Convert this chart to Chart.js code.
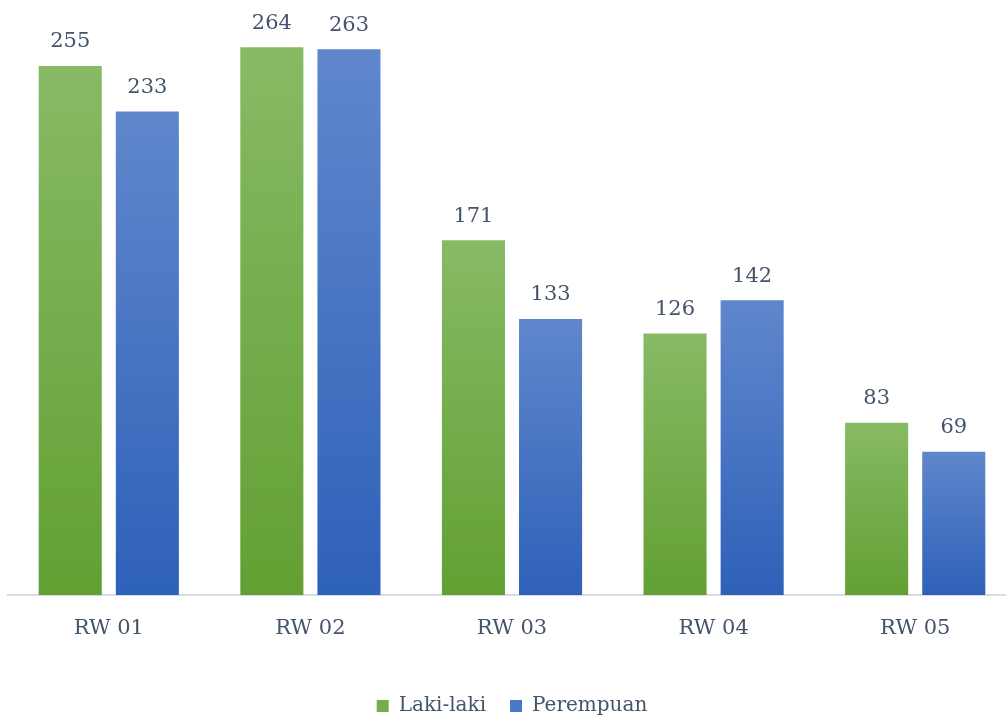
<!DOCTYPE html>
<html>
<head>
<meta charset="utf-8">
<script src="https://cdn.jsdelivr.net/npm/chart.js@4/dist/chart.umd.min.js"></script>
<style>
  html, body { margin: 0; padding: 0; background: #fff; overflow: hidden; }
  #wrap { width: 1006px; height: 716px; overflow: hidden; }
</style>
</head>
<body>
<div id="wrap"><canvas id="chart" width="1016" height="726"></canvas></div>
<script>
var categories = ['RW 01', 'RW 02', 'RW 03', 'RW 04', 'RW 05'];
var lakiLaki = [255, 264, 171, 126, 83];
var perempuan = [233, 263, 133, 142, 69];

var textColor = '#44546a';
var fontFamily = '"DejaVu Serif", serif';

// per-bar vertical gradient, lighter on top
var barGradient = function (top, bottom) {
    return function (context) {
        var chart = context.chart;
        if (!chart.chartArea || !chart.scales.y || context.raw === undefined) return bottom;
        var y = chart.scales.y;
        var y0 = y.getPixelForValue(context.raw);
        var y1 = y.getPixelForValue(0);
        var g = chart.ctx.createLinearGradient(0, y0, 0, y1);
        g.addColorStop(0, top);
        g.addColorStop(1, bottom);
        return g;
    };
};

var valueLabels = {
    id: 'valueLabels',
    afterDatasetsDraw: function (chart) {
        var ctx = chart.ctx;
        ctx.save();
        ctx.font = '21px ' + fontFamily;
        ctx.fillStyle = textColor;
        ctx.textAlign = 'center';
        ctx.textBaseline = 'middle';
        chart.data.datasets.forEach(function (ds, i) {
            chart.getDatasetMeta(i).data.forEach(function (bar, j) {
                ctx.fillText(ds.data[j], bar.x, bar.y - 24);
            });
        });
        ctx.restore();
    }
};

new Chart(document.getElementById('chart').getContext('2d'), {
    type: 'bar',
    data: {
        labels: categories,
        datasets: [{
            label: 'Laki-laki',
            data: lakiLaki,
            backgroundColor: barGradient('#87ba65', '#62a033')
        }, {
            label: 'Perempuan',
            data: perempuan,
            backgroundColor: barGradient('#6087cc', '#2e61b9')
        }]
    },
    options: {
        responsive: false,
        animation: false,
        categoryPercentage: 0.765,
        barPercentage: 0.818,
        layout: { padding: { left: 8, right: 0, top: 14, bottom: 0 } },
        scales: {
            x: {
                grid: { display: false, drawTicks: false },
                border: { color: '#d9dde3', width: 2 },
                ticks: { color: textColor, font: { family: fontFamily, size: 21 }, padding: 21 },
                afterFit: function (scale) { scale.height = 77; }
            },
            y: {
                display: false,
                min: 0,
                max: 280
            }
        },
        plugins: {
            legend: {
                position: 'bottom',
                labels: {
                    color: textColor,
                    font: { family: fontFamily, size: 20 },
                    boxWidth: 12,
                    boxHeight: 12,
                    padding: 24,
                    generateLabels: function (chart) {
                        var colors = ['#74ad4a', '#4a78c9'];
                        return chart.data.datasets.map(function (ds, i) {
                            return { text: ds.label, fillStyle: colors[i], strokeStyle: colors[i], lineWidth: 0, fontColor: textColor, datasetIndex: i };
                        });
                    }
                }
            },
            tooltip: { enabled: false }
        }
    },
    plugins: [valueLabels]
});
</script>
</body>
</html>
